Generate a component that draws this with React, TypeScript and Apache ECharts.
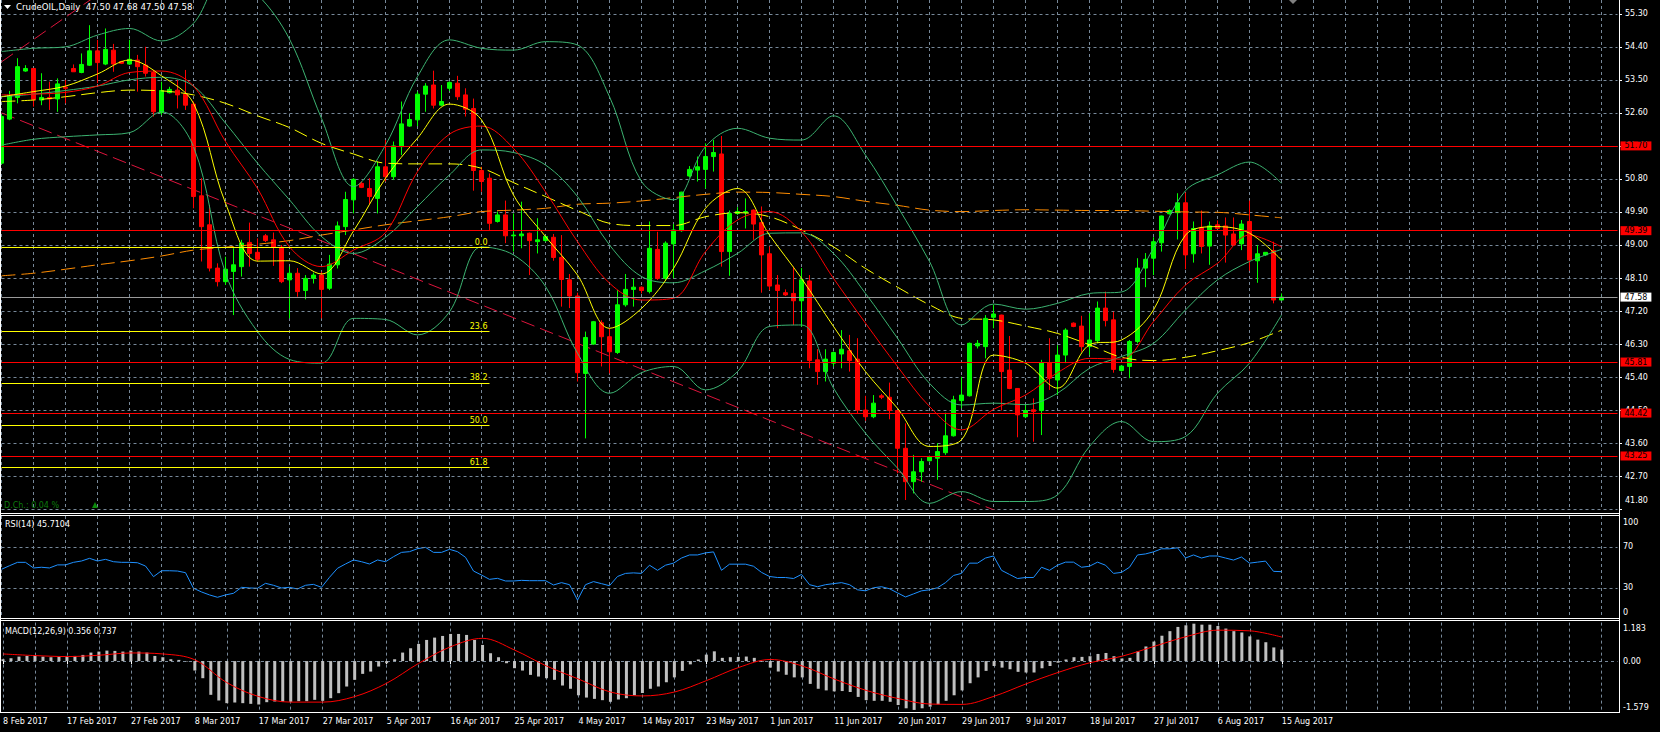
import React, { useEffect, useRef } from 'react';
import * as echarts from 'echarts';

// ---------- categories ----------
const MONTHS = ['Jan', 'Feb', 'Mar', 'Apr', 'May', 'Jun', 'Jul', 'Aug', 'Sep', 'Oct', 'Nov', 'Dec'];
const CLOSED_DAYS = ['2017-04-14'];
const SLOT_COUNT = 203; // 161 bars + empty shift area
const LAST_BAR = 160;

function buildDates(): string[] {
  const out: string[] = [];
  const d = new Date(Date.UTC(2017, 1, 8));
  while (out.length < SLOT_COUNT) {
    const iso = d.toISOString().slice(0, 10);
    if (d.getUTCDay() !== 6 && !CLOSED_DAYS.includes(iso)) {
      out.push(`${d.getUTCDate()} ${MONTHS[d.getUTCMonth()]} ${d.getUTCFullYear()}`);
    }
    d.setUTCDate(d.getUTCDate() + 1);
  }
  return out;
}

// ---------- price bars ----------
const OPEN = [
  51.23, 52.43, 53.02, 53.74, 53.81, 52.95, 53.02, 52.98, 53.30, 53.81,
  53.70, 53.90, 54.29, 53.93, 54.31, 54.00, 53.93, 54.04, 53.90, 53.70,
  52.61, 53.15, 53.22, 53.11, 52.84, 50.34, 49.55, 48.37, 48.00, 48.28,
  48.41, 49.07, 48.80, 49.25, 49.14, 48.94, 48.05, 48.23, 47.76, 48.09,
  48.18, 47.82, 48.46, 49.50, 50.23, 50.68, 50.54, 50.27, 51.13, 50.86,
  51.68, 52.24, 52.41, 53.11, 53.36, 52.81, 53.27, 53.41, 53.09, 52.72,
  51.03, 50.82, 49.64, 49.82, 49.25, 49.25, 49.32, 49.09, 49.12, 49.21,
  48.66, 48.05, 47.61, 45.50, 46.30, 46.88, 46.50, 46.07, 47.37, 47.79,
  47.85, 47.73, 48.88, 48.09, 49.03, 49.39, 50.88, 51.04, 51.06, 51.41,
  51.48, 48.82, 49.86, 49.88, 49.95, 49.61, 48.76, 47.91, 47.70, 47.68,
  47.48, 48.02, 45.87, 45.55, 45.78, 46.03, 46.12, 45.89, 44.50, 44.32,
  44.89, 44.85, 44.49, 43.46, 42.55, 42.82, 43.12, 43.19, 43.34, 43.80,
  44.76, 44.89, 46.25, 46.23, 47.03, 47.09, 45.59, 45.09, 44.32, 44.51,
  44.49, 45.79, 45.32, 46.00, 46.87, 46.79, 46.23, 46.39, 47.28, 46.96,
  45.58, 45.69, 46.37, 48.37, 48.64, 49.06, 49.85, 49.88, 50.15, 48.76,
  49.48, 48.97, 49.55, 49.52, 49.30, 49.03, 49.64, 48.57, 48.73, 48.85,
  47.50,
];
const CLOSE = [
  52.50, 53.06, 53.86, 53.81, 52.97, 53.02, 52.98, 53.39, 53.27, 53.72,
  53.92, 54.29, 53.97, 54.33, 53.93, 53.95, 54.06, 53.86, 53.68, 52.63,
  53.21, 53.24, 53.09, 52.81, 50.32, 49.50, 48.37, 48.00, 48.34, 48.46,
  49.05, 48.77, 48.61, 49.12, 48.94, 48.00, 48.23, 47.73, 48.09, 48.18,
  47.79, 48.48, 49.52, 50.24, 50.79, 50.57, 50.32, 51.13, 50.86, 51.70,
  52.30, 52.42, 53.11, 53.33, 52.81, 52.91, 53.43, 53.04, 52.70, 51.03,
  50.73, 49.59, 49.82, 49.25, 49.27, 49.30, 49.12, 49.14, 49.23, 48.66,
  48.06, 47.61, 45.52, 46.48, 46.91, 46.50, 46.09, 47.37, 47.79, 47.85,
  47.76, 48.91, 48.09, 49.05, 49.41, 50.44, 51.06, 51.13, 51.41, 51.52,
  48.82, 49.86, 49.91, 49.91, 49.57, 48.73, 47.88, 47.76, 47.64, 47.48,
  48.05, 45.85, 45.55, 45.89, 46.07, 46.16, 45.85, 44.50, 44.32, 44.69,
  44.85, 44.49, 43.46, 42.55, 42.82, 43.10, 43.23, 43.37, 43.80, 44.78,
  44.91, 46.32, 46.32, 47.00, 47.12, 45.55, 45.09, 44.37, 44.49, 44.46,
  45.79, 45.37, 46.00, 46.68, 46.78, 46.23, 46.41, 47.28, 46.94, 45.61,
  45.70, 46.37, 48.37, 48.61, 49.09, 49.79, 49.94, 50.15, 48.73, 49.45,
  48.96, 49.52, 49.45, 49.27, 49.00, 49.57, 48.59, 48.76, 48.80, 47.50,
  47.58,
];
const HIGH = [
  52.55, 53.20, 54.09, 53.90, 53.82, 53.68, 53.45, 53.54, 53.50, 53.92,
  54.22, 54.99, 54.59, 54.90, 54.48, 54.02, 54.59, 54.18, 54.40, 53.77,
  53.45, 53.31, 53.50, 53.77, 52.91, 50.82, 50.09, 48.50, 48.68, 48.91,
  49.14, 49.61, 49.18, 49.30, 49.34, 49.00, 48.41, 48.37, 48.18, 48.25,
  48.27, 48.73, 49.64, 50.45, 50.82, 50.73, 50.82, 51.27, 51.86, 51.82,
  52.91, 52.59, 53.18, 53.41, 53.75, 53.36, 53.46, 53.61, 53.27, 52.99,
  51.13, 50.95, 49.91, 50.21, 49.86, 50.18, 49.34, 49.73, 49.25, 49.30,
  49.27, 48.21, 47.70, 46.64, 46.93, 46.95, 46.73, 47.77, 48.21, 48.09,
  47.87, 49.64, 49.36, 49.10, 49.57, 50.45, 51.15, 51.41, 51.77, 51.86,
  51.97, 49.94, 50.03, 50.27, 49.97, 50.05, 48.96, 48.18, 47.79, 48.41,
  48.37, 48.18, 46.16, 46.16, 46.10, 46.68, 46.55, 46.46, 44.89, 44.91,
  44.94, 45.25, 44.50, 44.14, 43.28, 43.19, 43.26, 43.60, 44.43, 44.89,
  45.41, 46.34, 46.41, 47.09, 47.37, 47.10, 46.52, 45.10, 44.64, 44.82,
  45.87, 46.46, 46.27, 46.73, 46.89, 47.07, 47.14, 47.46, 47.73, 47.18,
  45.73, 46.41, 48.64, 48.78, 49.21, 49.80, 49.97, 50.41, 50.43, 49.64,
  49.94, 49.64, 49.67, 49.75, 49.75, 49.68, 50.21, 49.00, 48.80, 49.09,
  47.68,
];
const LOW = [
  51.20, 52.40, 52.86, 53.72, 52.77, 52.81, 52.68, 52.63, 52.86, 53.72,
  53.68, 53.88, 53.41, 53.90, 53.72, 53.93, 53.91, 53.18, 53.59, 52.50,
  52.54, 53.13, 52.72, 52.68, 50.00, 48.55, 48.28, 47.87, 47.91, 47.09,
  48.14, 48.41, 48.55, 49.08, 48.43, 47.96, 47.00, 47.59, 47.52, 47.95,
  47.00, 47.77, 48.36, 49.27, 49.86, 50.55, 50.09, 49.86, 50.73, 50.77,
  51.45, 52.22, 52.24, 52.63, 52.72, 52.79, 53.20, 52.95, 52.50, 50.48,
  50.45, 49.41, 49.61, 49.05, 48.82, 48.91, 48.18, 48.77, 49.09, 48.57,
  47.32, 47.28, 45.28, 43.73, 46.28, 45.69, 45.50, 46.03, 47.32, 47.32,
  47.68, 47.68, 48.05, 48.05, 48.09, 49.36, 50.84, 50.73, 50.54, 51.00,
  48.41, 48.16, 49.82, 49.45, 49.14, 47.70, 47.77, 46.73, 47.61, 46.82,
  46.77, 45.64, 45.19, 45.28, 45.69, 45.64, 45.55, 44.41, 44.21, 44.28,
  44.80, 44.25, 42.78, 42.05, 42.23, 42.55, 43.10, 42.60, 43.28, 43.78,
  44.55, 44.87, 46.18, 45.91, 46.73, 44.49, 45.07, 43.76, 44.28, 43.64,
  43.82, 45.05, 44.91, 45.78, 46.76, 46.09, 46.00, 46.32, 46.78, 45.52,
  45.55, 45.37, 46.32, 47.85, 48.18, 48.82, 49.83, 49.15, 48.34, 48.52,
  48.77, 48.46, 49.43, 48.52, 48.98, 48.86, 48.30, 47.97, 48.70, 47.41,
  47.50,
];

// ---------- indicator lines (read every 4 bars: bar 0, 4, 8 ... 160) ----------
const LINE_STEP = 4;
const BB_UPPER = [
  54.27, 54.36, 54.40, 54.72, 54.90, 54.56, 55.04, 56.37, 55.82, 54.61,
  52.45, 50.59, 51.72, 53.59, 54.59, 54.36, 54.31, 54.54, 54.45, 53.04,
  50.73, 50.23, 51.68, 52.18, 51.91, 51.86, 52.52, 51.45, 50.05, 48.55,
  46.82, 47.39, 47.25, 47.41, 47.68, 47.72, 48.91, 50.48, 50.91, 51.26,
  50.68,
];
const BB_MIDDLE = [
  53.04, 53.11, 53.21, 53.33, 53.50, 53.57, 53.33, 52.32, 51.23, 50.23,
  49.23, 48.77, 49.21, 50.05, 50.91, 51.59, 51.52, 51.18, 50.32, 49.00,
  48.14, 47.97, 48.30, 48.77, 49.32, 49.33, 48.77, 47.68, 46.46, 45.23,
  44.64, 44.69, 44.65, 44.96, 45.64, 45.96, 46.32, 47.23, 48.05, 48.55,
  48.88,
];
const BB_LOWER = [
  51.72, 51.88, 51.95, 52.00, 52.06, 52.63, 51.68, 48.23, 46.64, 45.88,
  45.78, 47.00, 46.97, 46.55, 47.18, 48.95, 48.73, 47.87, 46.05, 44.96,
  45.52, 45.69, 45.05, 45.55, 46.78, 46.82, 45.10, 43.87, 42.92, 41.96,
  42.28, 42.01, 42.01, 42.19, 43.51, 44.19, 43.64, 43.78, 44.96, 45.78,
  47.09,
];
const MA_FAST = [
  53.04, 53.18, 53.33, 53.66, 54.04, 53.61, 52.86, 50.14, 48.56, 48.57,
  48.21, 49.38, 50.82, 51.91, 52.84, 52.41, 50.36, 49.23, 48.18, 46.73,
  47.27, 48.36, 50.00, 50.54, 49.27, 48.09, 46.78, 45.55, 44.55, 43.51,
  43.69, 46.00, 45.78, 45.10, 46.28, 46.41, 47.23, 49.27, 49.50, 49.32,
  48.59,
];
const MA_MEDIUM = [
  53.09, 53.11, 53.16, 53.33, 53.70, 53.74, 53.33, 51.82, 50.54, 48.95,
  48.41, 48.86, 49.34, 51.00, 52.02, 52.24, 51.63, 50.45, 49.09, 47.96,
  47.50, 47.55, 48.82, 49.68, 49.91, 49.36, 48.09, 46.87, 45.69, 44.60,
  43.96, 44.52, 44.91, 45.52, 45.91, 45.89, 46.91, 47.91, 48.50, 49.27,
  48.95,
];
const MA_SLOW = [
  52.91, 52.95, 53.04, 53.15, 53.22, 53.20, 53.09, 52.86, 52.52, 52.20,
  51.77, 51.48, 51.23, 51.21, 51.21, 51.09, 50.70, 50.32, 49.94, 49.59,
  49.53, 49.53, 49.77, 49.88, 49.77, 49.41, 48.95, 48.36, 47.85, 47.37,
  47.00, 46.96, 46.79, 46.59, 46.28, 45.94, 45.85, 45.94, 46.12, 46.34,
  46.68,
];
const MA_LONG = [
  48.16, 48.23, 48.34, 48.46, 48.57, 48.70, 48.86, 48.94, 49.02, 49.12,
  49.27, 49.41, 49.55, 49.66, 49.77, 49.91, 49.95, 50.00, 50.11, 50.14,
  50.20, 50.29, 50.38, 50.44, 50.43, 50.38, 50.32, 50.19, 50.08, 49.95,
  49.91, 49.94, 49.96, 49.95, 49.94, 49.94, 49.92, 49.90, 49.89, 49.82,
  49.74,
];

// trend lines: [bar, price]
const TREND_UP = [[0, 53.99], [14, 56.12]];
const TREND_DOWN = [[0, 52.6], [126, 41.61]];

// horizontal levels
const RED_LEVELS = [51.7, 49.39, 45.81, 44.42, 43.25];
const BID_PRICE = 47.58;
const FIB_LABELS = ['0.0', '23.6', '38.2', '50.0', '61.8'];
const FIB_PRICES = [48.94, 46.65, 45.24, 44.09, 42.94];
const FIB_END_BAR = 61;

// price axis
const PRICE_MIN = 41.8;
const PRICE_MAX = 55.676;
const PRICE_STEP = 0.9;

// ---------- RSI(14) ----------
const RSI = [
  48.0, 51.5, 54.8, 54.8, 49.3, 50.0, 49.3, 52.3, 52.3, 54.8,
  56.1, 58.7, 56.1, 57.7, 55.4, 54.8, 54.8, 54.4, 51.2, 40.8,
  46.6, 46.6, 46.3, 44.7, 29.5, 25.9, 23.0, 20.7, 23.0, 24.6,
  30.4, 29.8, 29.5, 34.3, 32.4, 29.8, 30.4, 28.8, 32.4, 33.3,
  30.4, 40.2, 49.0, 53.2, 57.1, 55.4, 53.2, 57.1, 55.4, 60.3,
  64.5, 65.2, 68.1, 69.4, 64.5, 64.5, 67.5, 65.2, 59.7, 46.3,
  42.4, 38.2, 39.2, 36.6, 36.6, 37.2, 36.9, 36.9, 36.9, 32.7,
  35.0, 33.0, 18.0, 33.0, 36.0, 34.0, 32.0, 41.0, 44.0, 44.5,
  44.0, 52.0, 47.0, 52.0, 54.0, 59.0, 62.0, 62.0, 64.0, 65.0,
  47.0, 53.0, 53.0, 53.0, 51.0, 45.0, 41.0, 40.0, 40.0, 39.0,
  43.0, 33.0, 31.0, 33.0, 34.0, 35.0, 33.0, 28.0, 27.0, 30.0,
  31.0, 29.0, 25.0, 21.0, 24.0, 27.0, 28.0, 30.0, 35.0, 42.0,
  44.0, 54.0, 54.0, 59.0, 61.0, 47.0, 43.0, 39.0, 40.0, 40.0,
  50.0, 47.0, 52.0, 55.0, 55.0, 50.0, 51.0, 55.0, 52.0, 44.0,
  45.0, 50.0, 62.0, 63.0, 65.0, 68.0, 68.0, 69.0, 59.0, 62.0,
  59.0, 61.0, 61.0, 59.0, 57.0, 60.0, 54.0, 55.0, 56.0, 46.0,
  45.7104,
];
const RSI_LEVELS = [30, 70];

// ---------- MACD(12,26,9) ----------
const MACD_MAIN = [
  0.057, 0.088, 0.138, 0.159, 0.159, 0.138, 0.119, 0.138, 0.159, 0.159,
  0.19, 0.262, 0.293, 0.323, 0.313, 0.293, 0.323, 0.293, 0.262, 0.159,
  0.119, 0.057, 0.037, -0.014, -0.29, -0.525, -1.036, -1.21, -1.292, -1.272,
  -1.292, -1.313, -1.333, -1.262, -1.241, -1.241, -1.251, -1.231, -1.231, -1.19,
  -1.221, -1.139, -0.985, -0.781, -0.576, -0.392, -0.321, -0.167, -0.065, 0.057,
  0.262, 0.395, 0.528, 0.65, 0.722, 0.773, 0.834, 0.834, 0.804, 0.65,
  0.497, 0.242, 0.119, -0.065, -0.218, -0.29, -0.423, -0.474, -0.525, -0.576,
  -0.75, -0.85, -1.05, -1.12, -1.16, -1.2, -1.25, -1.18, -1.14, -1.05,
  -0.98, -0.85, -0.78, -0.65, -0.5, -0.3, -0.1, 0.05, 0.2, 0.3,
  0.1, 0.12, 0.13, 0.14, 0.1, -0.02, -0.2, -0.32, -0.42, -0.5,
  -0.5, -0.7, -0.85, -0.9, -0.93, -0.92, -0.95, -1.1, -1.2, -1.22,
  -1.22, -1.25, -1.35, -1.45, -1.5, -1.45, -1.4, -1.33, -1.22, -1.05,
  -0.9, -0.68, -0.5, -0.3, -0.15, -0.2, -0.25, -0.33, -0.35, -0.35,
  -0.22, -0.15, -0.05, 0.05, 0.12, 0.13, 0.15, 0.22, 0.25, 0.15,
  0.08, 0.1, 0.3, 0.45, 0.6, 0.78, 0.92, 1.05, 1.1, 1.15,
  1.12, 1.12, 1.08, 1.0, 0.92, 0.88, 0.76, 0.66, 0.58, 0.42,
  0.356,
];
const MACD_SIGNAL = [
  0.22, 0.17, 0.14, 0.18, 0.25, 0.22, 0.04, -0.66, -1.09, -1.26,
  -1.26, -1.09, -0.68, -0.07, 0.44, 0.7, 0.34, -0.15, -0.55, -0.95,
  -1.07, -0.95, -0.6, -0.2, 0.05, -0.15, -0.55, -0.9, -1.15, -1.32,
  -1.33, -1.08, -0.7, -0.35, -0.05, 0.15, 0.45, 0.75, 0.95, 0.93,
  0.737,
];
const MACD_MIN = -1.579;
const MACD_MAX = 1.183;

// ---------- styling ----------
const FONT = 'DejaVu Sans';
const GRID_COLOR = '#778899';
const BB_COLOR = '#3cb371';
const SMOOTH = 0.35;

const sampled = (arr: number[]) => arr.map((v, i) => [i * LINE_STEP, v]);

function buildOption() {
  const cats = buildDates();
  const axisText = { fontFamily: FONT, fontSize: 8, color: '#ffffff' };
  const vGrid = {
    show: true,
    interval: (i: number) => i % 4 === 0,
    lineStyle: { color: GRID_COLOR, type: [3, 3], width: 1 },
  };
  const labelEvery = (i: number) => i % 8 === 0 && i <= LAST_BAR;

  const xAxis = [0, 1, 2].map((g) => ({
    type: 'category',
    gridIndex: g,
    data: cats,
    boundaryGap: false,
    axisLine: { show: false },
    axisTick: {
      show: g === 2,
      interval: labelEvery,
      length: 3,
      lineStyle: { color: '#ffffff', width: 1 },
    },
    axisLabel: {
      show: g === 2,
      interval: labelEvery,
      align: 'left',
      margin: 5,
      ...axisText,
    },
    splitLine: vGrid,
  }));

  const dashed = { color: GRID_COLOR, type: [3, 3], width: 1 };

  const yAxis = [
    {
      type: 'value',
      gridIndex: 0,
      position: 'right',
      offset: 1.5,
      min: 0,
      max: PRICE_MAX - PRICE_MIN,
      interval: PRICE_STEP,
      axisLine: { show: false },
      axisTick: { show: true, length: 3, lineStyle: { color: '#ffffff' } },
      axisLabel: {
        margin: 6,
        showMaxLabel: false,
        ...axisText,
        formatter: (v: number) => {
          const k = Math.round(v / PRICE_STEP);
          if (Math.abs(v - k * PRICE_STEP) > 1e-6) return '';
          const s = (PRICE_MIN + v).toFixed(2);
          return k === 0 ? `{low|${s}}` : s;
        },
        rich: { low: { ...axisText, padding: [0, 0, 18, 0] } },
      },
      splitLine: { show: true, showMaxLine: false, lineStyle: dashed },
    },
    {
      type: 'value',
      gridIndex: 0,
      min: PRICE_MIN,
      max: PRICE_MAX,
      show: false,
      splitLine: { show: false },
    },
    {
      type: 'value',
      gridIndex: 1,
      position: 'right',
      offset: 1.5,
      min: 0,
      max: 100,
      interval: 10,
      axisLine: { show: false },
      axisTick: { show: false },
      splitLine: { show: false },
      axisLabel: {
        margin: 4,
        ...axisText,
        formatter: (v: number) => {
          if (v === 100) return '{t|100}';
          if (v === 0) return '{b|0}';
          if (RSI_LEVELS.includes(v)) return String(v);
          return '';
        },
        rich: {
          t: { ...axisText, padding: [12, 0, 0, 0] },
          b: { ...axisText, padding: [0, 0, 12, 0] },
        },
      },
    },
    {
      type: 'value',
      gridIndex: 2,
      position: 'right',
      offset: 1.5,
      min: MACD_MIN,
      max: MACD_MAX,
      interval: -MACD_MIN,
      axisLine: { show: false },
      axisTick: { show: false },
      splitLine: { show: true, showMinLine: false, showMaxLine: false, lineStyle: dashed },
      axisLabel: {
        margin: 4,
        ...axisText,
        formatter: (v: number) => {
          if (Math.abs(v - MACD_MAX) < 1e-6) return `{t|${MACD_MAX.toFixed(3)}}`;
          if (Math.abs(v - MACD_MIN) < 1e-6) return `{b|${MACD_MIN.toFixed(3)}}`;
          if (Math.abs(v) < 1e-6) return '0.00';
          return '';
        },
        rich: {
          t: { ...axisText, padding: [11, 0, 0, 0] },
          b: { ...axisText, padding: [0, 0, 11, 0] },
        },
      },
    },
  ];

  const redLevelLines = RED_LEVELS.map((p) => ({
    yAxis: p,
    lineStyle: { color: '#ff0000', width: 1, type: 'solid' },
    label: {
      show: true,
      position: 'end',
      distance: 3,
      formatter: () => p.toFixed(2),
      backgroundColor: '#ff0000',
      color: '#000000',
      padding: [1, 4, 0, 4],
      fontFamily: FONT,
      fontSize: 8,
    },
  }));
  const bidLine = {
    yAxis: BID_PRICE,
    lineStyle: { color: '#9a9a9a', width: 1, type: 'solid' },
    label: {
      show: true,
      position: 'end',
      distance: 3,
      formatter: () => BID_PRICE.toFixed(2),
      backgroundColor: '#ffffff',
      color: '#000000',
      padding: [1, 4, 0, 4],
      fontFamily: FONT,
      fontSize: 8,
    },
  };
  const fibLines = FIB_PRICES.map((p, i) => [
    {
      coord: [0, p],
      lineStyle: { color: '#ffff00', width: 1, type: 'solid' },
      label: {
        show: true,
        position: 'insideEndTop',
        distance: 1,
        formatter: () => FIB_LABELS[i],
        color: '#ffff00',
        backgroundColor: '#000000',
        padding: [0, 1, 0, 1],
        fontFamily: FONT,
        fontSize: 8,
      },
    },
    { coord: [FIB_END_BAR, p] },
  ]);

  const priceLine = (name: string, arr: number[], color: string, dashedLine: boolean) => ({
    name,
    type: 'line',
    xAxisIndex: 0,
    yAxisIndex: 1,
    data: sampled(arr),
    symbol: 'none',
    smooth: SMOOTH,
    silent: true,
    z: 4,
    lineStyle: { color, width: 1, type: dashedLine ? [14, 6] : 'solid' },
  });

  const trend = (name: string, pts: number[][]) => ({
    name,
    type: 'line',
    xAxisIndex: 0,
    yAxisIndex: 1,
    data: pts,
    symbol: 'none',
    silent: true,
    z: 2,
    clip: true,
    lineStyle: { color: '#dc143c', width: 1, type: [14, 6] },
  });

  const series: any[] = [
    {
      name: 'CrudeOIL',
      type: 'candlestick',
      xAxisIndex: 0,
      yAxisIndex: 1,
      barWidth: 4,
      z: 3,
      silent: true,
      data: OPEN.map((o, i) => [o, CLOSE[i], LOW[i], HIGH[i]]),
      itemStyle: {
        color: '#00ff00',
        color0: '#ff0000',
        borderColor: '#00ff00',
        borderColor0: '#ff0000',
        borderWidth: 1,
      },
      markLine: {
        silent: true,
        symbol: ['none', 'none'],
        animation: false,
        data: [...redLevelLines, bidLine, ...fibLines],
      },
    },
    trend('Trend up', TREND_UP),
    trend('Trend down', TREND_DOWN),
    priceLine('MA long', MA_LONG, '#ff8c00', true),
    priceLine('MA slow', MA_SLOW, '#ffff00', true),
    priceLine('BB upper', BB_UPPER, BB_COLOR, false),
    priceLine('BB middle', BB_MIDDLE, BB_COLOR, false),
    priceLine('BB lower', BB_LOWER, BB_COLOR, false),
    priceLine('MA medium', MA_MEDIUM, '#ff0000', false),
    priceLine('MA fast', MA_FAST, '#ffff00', false),
    {
      name: 'RSI',
      type: 'line',
      xAxisIndex: 1,
      yAxisIndex: 2,
      data: RSI,
      symbol: 'none',
      silent: true,
      lineStyle: { color: '#1e90ff', width: 1 },
      markLine: {
        silent: true,
        symbol: ['none', 'none'],
        label: { show: false },
        lineStyle: dashed,
        data: RSI_LEVELS.map((v) => ({ yAxis: v })),
      },
    },
    {
      name: 'MACD',
      type: 'bar',
      xAxisIndex: 2,
      yAxisIndex: 3,
      data: MACD_MAIN,
      barWidth: 3,
      silent: true,
      itemStyle: { color: '#c0c0c0' },
    },
    {
      name: 'Signal',
      type: 'line',
      xAxisIndex: 2,
      yAxisIndex: 3,
      data: sampled(MACD_SIGNAL),
      symbol: 'none',
      smooth: SMOOTH,
      silent: true,
      z: 4,
      lineStyle: { color: '#ff0000', width: 1 },
    },
  ];

  const border = (x1: number, y1: number, x2: number, y2: number) => ({
    type: 'line',
    silent: true,
    z: 100,
    shape: { x1, y1, x2, y2 },
    style: { stroke: '#ffffff', lineWidth: 1 },
  });

  const last = LAST_BAR;
  const header = `CrudeOIL,Daily  ${OPEN[last].toFixed(2)} ${HIGH[last].toFixed(2)} ${LOW[last].toFixed(2)} ${CLOSE[last].toFixed(2)}`;
  const rsiText = `RSI(14) ${RSI[last].toFixed(4)}`;
  const macdText = `MACD(12,26,9) ${MACD_MAIN[last].toFixed(3)} ${MACD_SIGNAL[MACD_SIGNAL.length - 1].toFixed(3)}`;

  const graphic = [
    border(1619.5, 0, 1619.5, 713),
    border(0.5, 0, 0.5, 713),
    border(0, 513.5, 1619.5, 513.5),
    border(0, 515.5, 1619.5, 515.5),
    border(0, 618.5, 1619.5, 618.5),
    border(0, 620.5, 1619.5, 620.5),
    border(0, 712.5, 1619.5, 712.5),
    {
      type: 'polygon',
      silent: true,
      z: 100,
      shape: { points: [[4, 5], [11, 5], [7.5, 9]] },
      style: { fill: '#ffffff' },
    },
    {
      type: 'text',
      silent: true,
      z: 100,
      x: 16,
      y: 7,
      style: { text: header, fill: '#ffffff', fontFamily: FONT, fontSize: 8.6, verticalAlign: 'middle' },
    },
    {
      type: 'text',
      silent: true,
      z: 100,
      x: 5,
      y: 524,
      style: { text: rsiText, fill: '#ffffff', fontFamily: FONT, fontSize: 8, verticalAlign: 'middle' },
    },
    {
      type: 'text',
      silent: true,
      z: 100,
      x: 5,
      y: 631,
      style: { text: macdText, fill: '#ffffff', fontFamily: FONT, fontSize: 8, verticalAlign: 'middle' },
    },
    {
      type: 'text',
      silent: true,
      z: 100,
      x: 4,
      y: 505,
      style: { text: 'D.Ch.: 0.04 %', fill: '#0b7a0b', fontFamily: FONT, fontSize: 8, verticalAlign: 'middle' },
    },
    {
      type: 'polygon',
      silent: true,
      z: 100,
      shape: { points: [[92, 508], [98, 508], [95, 502]] },
      style: { fill: '#0b8a0b' },
    },
    {
      type: 'polygon',
      silent: true,
      z: 100,
      shape: { points: [[1289, 0], [1297, 0], [1293, 4]] },
      style: { fill: '#808080' },
    },
  ];

  return {
    animation: false,
    backgroundColor: '#000000',
    textStyle: { fontFamily: FONT },
    grid: [
      { left: 1.5, width: 1616, top: 0, height: 509.2 },
      { left: 1.5, width: 1616, top: 516, height: 102.5 },
      { left: 1.5, width: 1616, top: 622.6, height: 89.9 },
    ],
    xAxis,
    yAxis,
    series,
    graphic,
  };
}

export default function App() {
  const ref = useRef<HTMLDivElement | null>(null);

  useEffect(() => {
    document.body.style.margin = '0';
    document.body.style.background = '#000000';
    if (!ref.current) return;
    const chart = echarts.init(ref.current, undefined, { renderer: 'svg' });
    chart.setOption(buildOption() as any);
    return () => {
      chart.dispose();
    };
  }, []);

  return <div ref={ref} style={{ width: 1660, height: 732, background: '#000000' }} />;
}
